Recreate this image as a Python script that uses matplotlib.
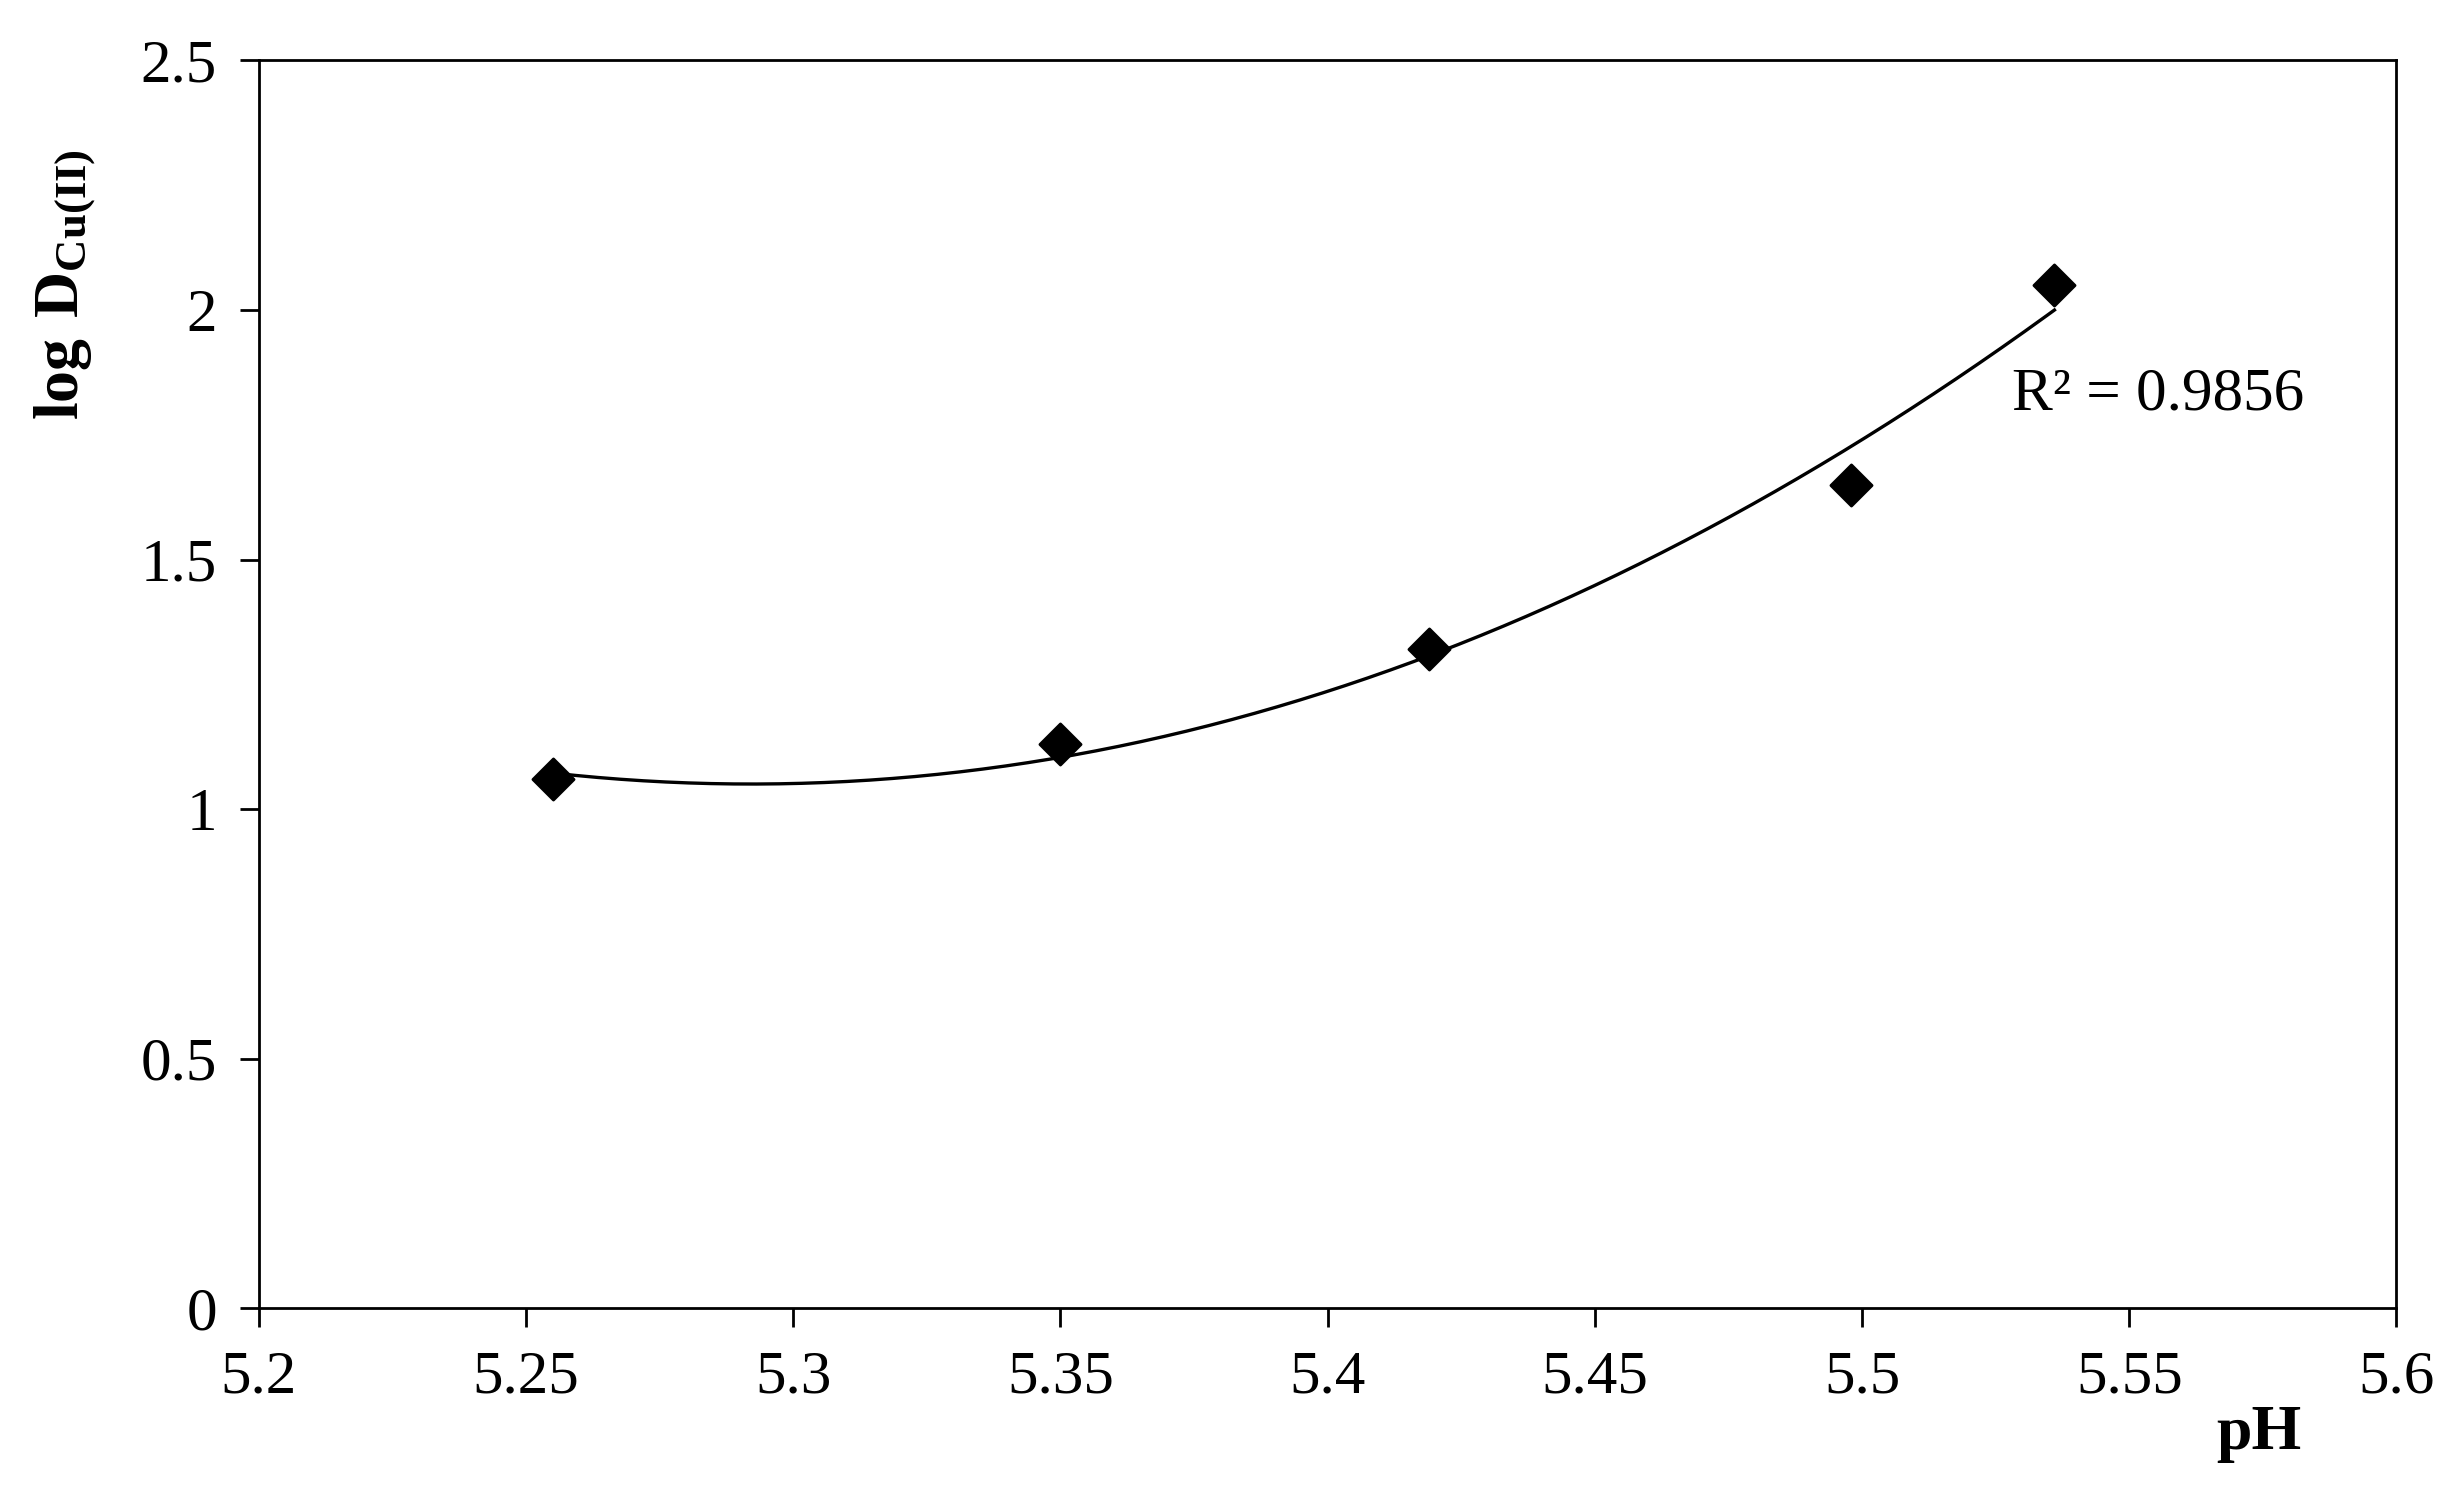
import matplotlib
matplotlib.use("Agg")
import matplotlib.pyplot as plt
import numpy as np

plt.rcParams["font.family"] = ["Liberation Serif", "DejaVu Serif"]
plt.rcParams["mathtext.fontset"] = "custom"
plt.rcParams["mathtext.rm"] = "Liberation Serif"
plt.rcParams["mathtext.bf"] = "Liberation Serif:bold"

# data
ph = np.array([5.255, 5.350, 5.419, 5.498, 5.536])
log_d = np.array([1.06, 1.13, 1.32, 1.65, 2.05])

# second-order trendline
coef = np.polyfit(ph, log_d, 2)
xs = np.linspace(ph.min(), ph.max(), 200)

fig = plt.figure(figsize=(12.315, 7.545), dpi=200)
ax = fig.add_axes([0.105, 0.133, 0.868, 0.827])

ax.plot(xs, np.polyval(coef, xs), color="black", lw=1.2, zorder=2)
ax.scatter(ph, log_d, marker="D", s=110, color="black", zorder=3)

ax.set_xlim(5.2, 5.6)
ax.set_ylim(0, 2.5)
ax.set_xticks(np.arange(5.2, 5.601, 0.05))
ax.set_xticklabels(["5.2", "5.25", "5.3", "5.35", "5.4", "5.45", "5.5", "5.55", "5.6"])
ax.set_yticks([0, 0.5, 1, 1.5, 2, 2.5])
ax.set_yticklabels(["0", "0.5", "1", "1.5", "2", "2.5"])
ax.tick_params(labelsize=22, direction="out", length=7, width=1, pad=8)
for s in ax.spines.values():
    s.set_linewidth(1)

ax.text(5.528, 1.8, "R² = 0.9856", fontsize=22)
ax.set_ylabel(r"$\mathbf{log\ D_{Cu(II)}}$", fontsize=23, labelpad=10)
ax.yaxis.set_label_coords(-0.075, 0.82)
fig.text(0.9, 0.04, "pH", fontsize=23, fontweight="bold")

fig.savefig("out.png", dpi=200)
